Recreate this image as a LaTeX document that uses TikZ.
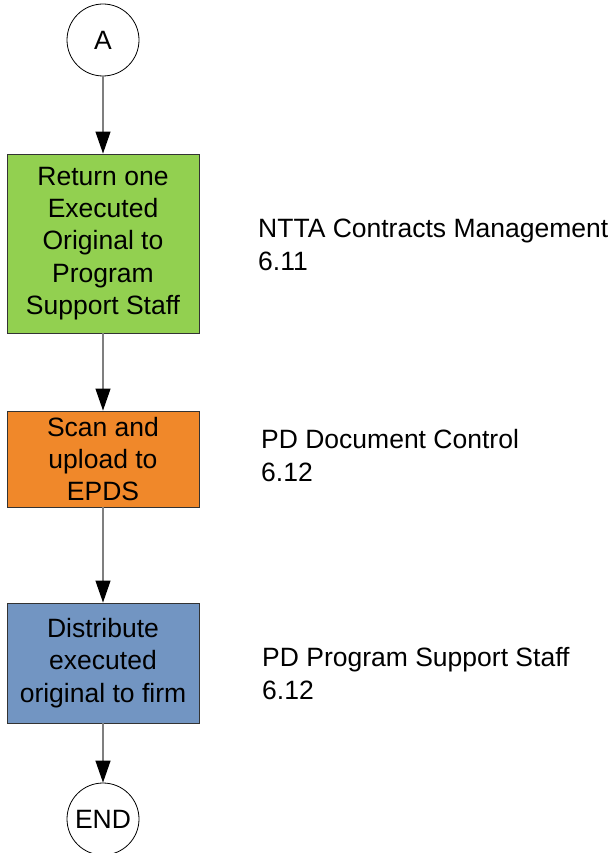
\documentclass[tikz,border=0pt]{standalone}
\usepackage{fontspec}
\setmainfont{Liberation Sans}
\usetikzlibrary{arrows.meta}
\definecolor{boxgreen}{HTML}{92D050}
\definecolor{boxorange}{HTML}{F0882A}
\definecolor{boxblue}{HTML}{7295C2}
\definecolor{linegray}{HTML}{7F7F7F}
\tikzset{
  every node/.style={font=\fontsize{26.5}{32.3}\selectfont},
  term/.style={circle, draw=black, line width=0.8pt, minimum size=72pt, inner sep=0pt, fill=white},
  procbox/.style={rectangle, draw=black!80, line width=0.9pt, minimum width=192pt, align=center, inner sep=0pt},
  flow/.style={draw=linegray, line width=1.2pt, -{Triangle[length=22pt,width=15pt,color=black]}},
  lab/.style={anchor=base west, align=left, inner sep=0pt}
}
\begin{document}
\begin{tikzpicture}[x=1pt,y=-1pt]
\useasboundingbox (0,0) rectangle (614,853);
\node[term] (A) at (103,40) {A};
\node[procbox, fill=boxgreen, minimum height=179pt] (g) at (103,243.5) {Return one\\Executed\\Original to\\Program\\Support Staff};
\node[procbox, fill=boxorange, minimum height=96pt] (o) at (103,459) {Scan and\\upload to\\EPDS};
\node[procbox, fill=boxblue, minimum height=120pt] (b) at (103,663) {Distribute\\executed\\original to firm};
\node[term] (E) at (103,819) {END};
\draw[flow] (A) -- (g);
\draw[flow] (g) -- (o);
\draw[flow] (o) -- (b);
\draw[flow] (b) -- (E);
\node[lab] (l1) at (258,270) {NTTA Contracts Management\\6.11};
\node[lab] (l2) at (261,481) {PD Document Control\\6.12};
\node[lab] (l3) at (262,699) {PD Program Support Staff\\6.12};
\end{tikzpicture}
\end{document}
